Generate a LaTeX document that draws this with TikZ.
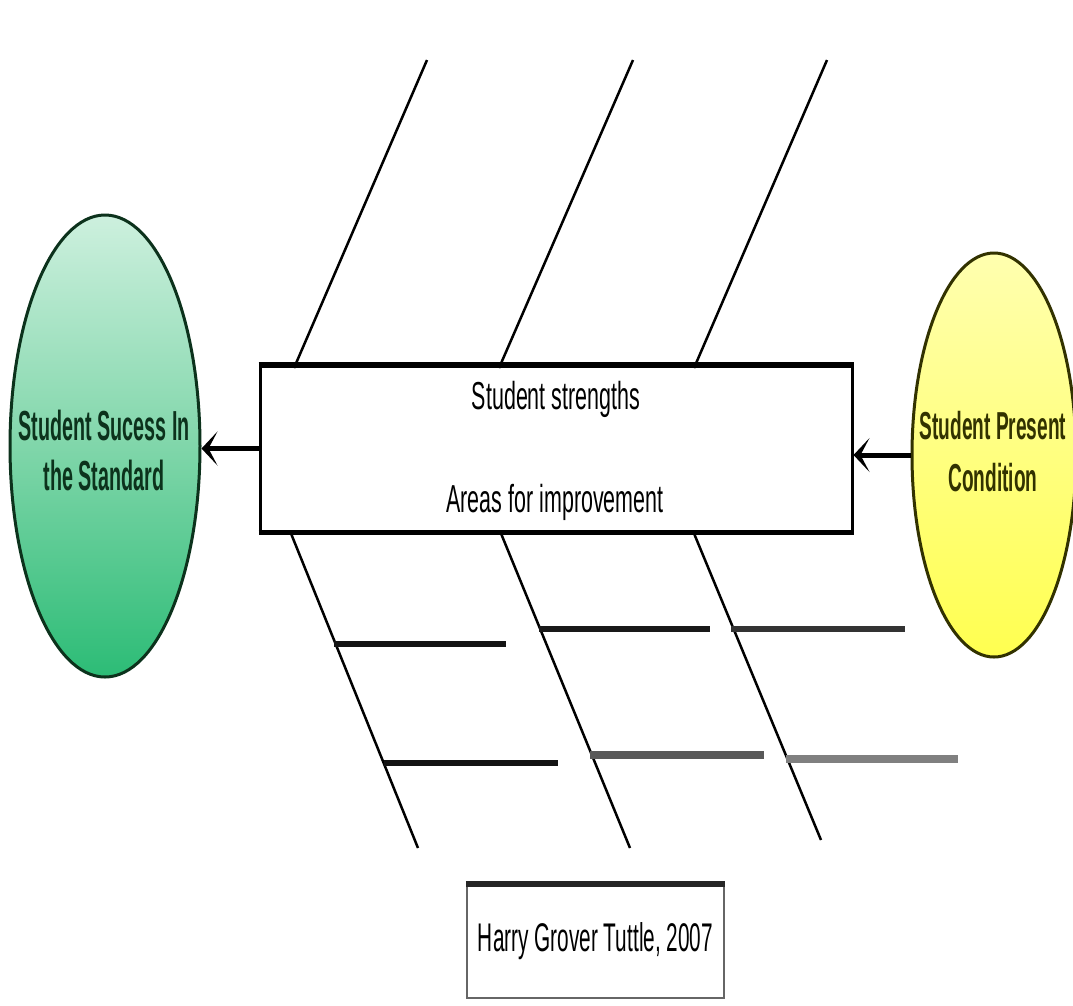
\documentclass[tikz,border=0pt]{standalone}
\usepackage{fontspec}
\setmainfont{Liberation Sans}
\newfontfamily\ellfontA[FakeStretch=0.47]{Liberation Sans}
\newfontfamily\ellfontB[FakeStretch=0.49]{Liberation Sans}
\newfontfamily\boxfont[FakeStretch=0.55]{Liberation Sans}
\newfontfamily\creditfont[FakeStretch=0.52]{Liberation Sans}
\usetikzlibrary{shapes.geometric,arrows.meta}
\definecolor{gtop}{RGB}{205,240,222}
\definecolor{gmid}{RGB}{128,214,170}
\definecolor{gbot}{RGB}{44,188,118}
\definecolor{gedge}{RGB}{12,50,28}
\definecolor{ytop}{RGB}{255,255,175}
\definecolor{ybot}{RGB}{255,255,80}
\definecolor{yedge}{RGB}{50,50,0}
\tikzset{
  bone/.style={line width=2.5pt,black},
  branch/.style={line width=6pt},
  arr/.style={line width=5pt,-{Stealth[length=16pt,width=34pt,inset=9pt]}},
  elltext/.style={align=center,inner sep=0pt},
}
\begin{document}
\begin{tikzpicture}[x=1pt,y=-1pt]
\fill[white] (0,0) rectangle (1073,1005);
\useasboundingbox (0,0) rectangle (1073,1005);

% ellipses
\node[ellipse,draw=gedge,line width=3pt,minimum width=190pt,minimum height=462pt,inner sep=0pt,
      top color=gtop,bottom color=gbot,middle color=gmid] (succ) at (105,446) {};
\node[elltext,text=gedge,font={\ellfontA\bfseries\fontsize{42}{50}\selectfont}] (succtext) at (104,450)
  {Student Sucess In\\the Standard};

\node[ellipse,draw=yedge,line width=3pt,minimum width=164pt,minimum height=404pt,inner sep=0pt,
      top color=ytop,bottom color=ybot] (cond) at (994,455) {};
\node[elltext,text=yedge,font={\ellfontB\bfseries\fontsize{39}{52}\selectfont}] (condtext) at (993,452)
  {Student Present\\Condition};

% main box
\node[draw=black,line width=3pt,fill=white,minimum width=592pt,minimum height=165pt,inner sep=0pt] (main) at (556,448.5) {};
\draw[line width=5pt] (main.north west) -- (main.north east);
\draw[line width=5pt] (main.south west) -- (main.south east);
\node[anchor=base,inner sep=0pt,font={\boxfont\fontsize{39}{45}\selectfont}] (str) at (556,409)
  {Student strengths};
\node[anchor=base,inner sep=0pt,font={\boxfont\fontsize{39}{45}\selectfont}] (imp) at (555,512)
  {Areas for improvement};

% arrows
\draw[arr] (main.west) -- (main.west -| succ.east);
\draw[arr] (cond.west) -- (cond.west -| main.east);

% bones (upper)
\coordinate (u1a) at (294,368); \coordinate (u1b) at (427,60);
\coordinate (u2a) at (499,368); \coordinate (u2b) at (633,60);
\coordinate (u3a) at (694,368); \coordinate (u3b) at (827,60);
\draw[bone] (u1a) -- (u1b);
\draw[bone] (u2a) -- (u2b);
\draw[bone] (u3a) -- (u3b);

% bones (lower)
\coordinate (l1a) at (290,531); \coordinate (l1b) at (418,848);
\coordinate (l2a) at (500,531); \coordinate (l2b) at (630,848);
\coordinate (l3a) at (693,531); \coordinate (l3b) at (821,840);
\draw[bone] (l1a) -- (l1b);
\draw[bone] (l2a) -- (l2b);
\draw[bone] (l3a) -- (l3b);

% branches
\coordinate (b1s) at (334,644); \coordinate (b1e) at (506,644);
\coordinate (b2s) at (384,763); \coordinate (b2e) at (558,763);
\coordinate (b3s) at (539,629); \coordinate (b3e) at (710,629);
\coordinate (b4s) at (590,755); \coordinate (b4e) at (764,755);
\coordinate (b5s) at (731,629); \coordinate (b5e) at (905,629);
\coordinate (b6s) at (786,759); \coordinate (b6e) at (958,759);
\draw[branch,color=black!92] (b1s) -- (b1e);
\draw[branch,color=black!92] (b2s) -- (b2e);
\draw[branch,color=black!90] (b3s) -- (b3e);
\draw[branch,line width=8pt,color=black!65] (b4s) -- (b4e);
\draw[branch,color=black!80] (b5s) -- (b5e);
\draw[branch,line width=8pt,color=black!50] (b6s) -- (b6e);

% credit box
\node[draw=black!60,line width=2.5pt,fill=white,minimum width=257pt,minimum height=113pt,inner sep=0pt,
      font={\creditfont\fontsize{40}{46}\selectfont}] (credit) at (595.5,941.5)
  {Harry Grover Tuttle, 2007};
\draw[line width=6pt,black!85] (credit.north west) -- (credit.north east);
\end{tikzpicture}
\end{document}
